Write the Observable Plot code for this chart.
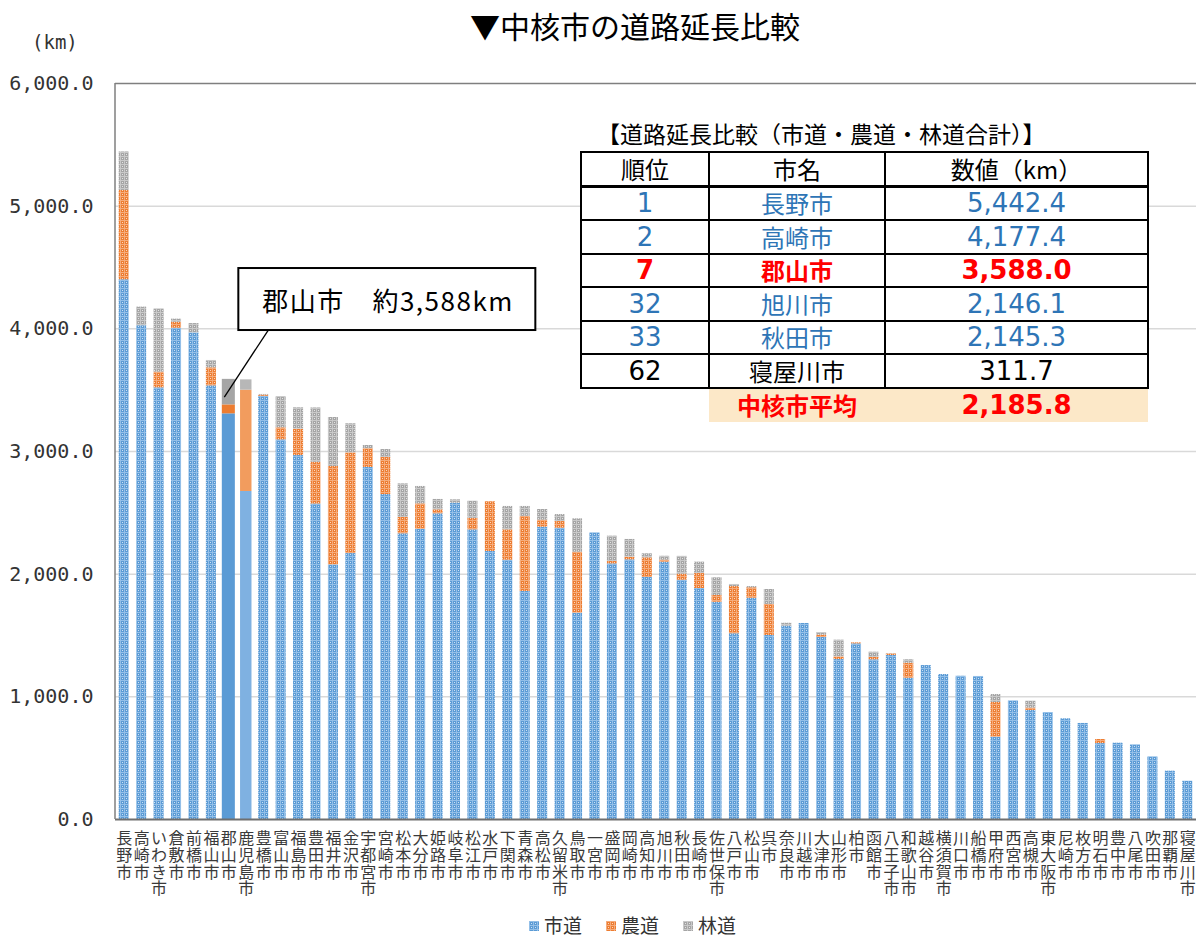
<!DOCTYPE html>
<html><head><meta charset="utf-8">
<script src="https://cdn.jsdelivr.net/npm/d3@7"></script>
<script src="https://cdn.jsdelivr.net/npm/@observablehq/plot@0.6"></script>
<style>
html,body{margin:0;padding:0;background:#fff;overflow:hidden;}
body{width:1196px;height:939px;position:relative;font-family:"Noto Sans CJK JP",sans-serif;}
#chart{position:absolute;left:0;top:0;}
.abs{position:absolute;white-space:nowrap;}
#title{left:470px;top:6px;font-size:30px;line-height:38px;color:#000;}
#unit{left:32px;top:31px;font-family:"DejaVu Sans Mono",monospace;font-size:19px;color:#333;}
#ttitle{left:597px;top:118px;font-size:23px;line-height:30px;color:#000;}
#rank{position:absolute;left:580px;top:151px;border-collapse:collapse;font-size:24px;}
#rank td{border:2px solid #000;height:31.5px;padding:0;text-align:center;line-height:30px;background:#fff;}
#rank td.c1{width:126px;} #rank td.c2{width:174px;} #rank td.c3{width:261px;}
#rank td.num{font-family:"DejaVu Sans",sans-serif;font-size:26px;}
#rank tr.avg td{border:none;background:#FCE8C8;color:#FF0000;font-weight:bold;height:33px;}
#rank tr.avg td.c1{background:transparent;}
#legend{left:517px;top:914px;font-size:19px;line-height:22px;color:#333;}
#legend span.it{margin:0 12px;}
#legend svg{vertical-align:middle;margin-right:5px;position:relative;top:-2px;}
</style></head>
<body>
<svg width="0" height="0" style="position:absolute">
<defs>
<pattern id="pBlue" width="4" height="4" patternUnits="userSpaceOnUse">
<rect width="4" height="4" fill="#5B9BD5"/><rect width="4" height="1" fill="#93BFE8"/><rect width="1" height="4" fill="#93BFE8"/><rect x="2" y="2" width="1" height="1" fill="#ffffff" fill-opacity="0.7"/>
</pattern>
<pattern id="pOrange" width="4" height="4" patternUnits="userSpaceOnUse">
<rect width="4" height="4" fill="#ED7D31"/><rect width="4" height="1" fill="#F5AC7C"/><rect width="1" height="4" fill="#F5AC7C"/><rect x="2" y="2" width="1" height="1" fill="#ffffff" fill-opacity="0.7"/>
</pattern>
<pattern id="pGray" width="4" height="4" patternUnits="userSpaceOnUse">
<rect width="4" height="4" fill="#A5A5A5"/><rect width="4" height="1" fill="#C9C9C9"/><rect width="1" height="4" fill="#C9C9C9"/><rect x="2" y="2" width="1" height="1" fill="#ffffff" fill-opacity="0.7"/>
</pattern>
</defs>
</svg>
<div id="chart"></div>
<div id="title" class="abs">▼中核市の道路延長比較</div>
<div id="unit" class="abs">(km)</div>
<div id="ttitle" class="abs">【道路延長比較（市道・農道・林道合計）】</div>
<table id="rank"></table>
<div id="legend" class="abs"></div>
<script>
const cities = ["長野市","高崎市","いわき市","倉敷市","前橋市","福山市","郡山市","鹿児島市","豊橋市","富山市","福島市","豊田市","福井市","金沢市","宇都宮市","宮崎市","松本市","大分市","姫路市","岐阜市","松江市","水戸市","下関市","青森市","高松市","久留米市","鳥取市","一宮市","盛岡市","岡崎市","高知市","旭川市","秋田市","長崎市","佐世保市","八戸市","松山市","呉市","奈良市","川越市","大津市","山形市","柏市","函館市","八王子市","和歌山市","越谷市","横須賀市","川口市","船橋市","甲府市","西宮市","高槻市","東大阪市","尼崎市","枚方市","明石市","豊中市","八尾市","吹田市","那覇市","寝屋川市"];
const shido = [4400,4025,3519,4005,3967,3535,3307,2674,3450,3095,2967,2572,2076,2168,2870,2649,2329,2366,2492,2579,2361,2185,2114,1859,2383,2375,1682,2337,2084,2117,1973,2098,1951,1883,1771,1514,1804,1500,1576,1598,1484,1304,1432,1302,1337,1152,1255,1182,1168,1166,671,967,889,872,821,783,619,622,609,511,394,312];
const nodo = [728,0,128,49,0,147,73,826,10,98,215,340,802,821,153,302,133,207,32,0,94,405,247,612,57,54,497,0,19,21,160,16,49,122,55,385,85,253,0,0,19,22,8,19,12,122,0,0,0,0,283,0,19,0,0,0,33,0,0,0,0,0];
const rindo = [314,152,516,25,76,60,208,84,5,255,174,443,399,237,26,65,274,142,85,27,140,0,191,81,87,57,272,0,207,145,33,32,145,93,144,17,10,122,24,0,21,136,0,43,2,28,0,0,0,0,65,0,57,0,0,0,0,0,0,0,0,0];
const seriesNames = ["市道","農道","林道"];
const yTicks = [0,1000,2000,3000,4000,5000,6000];
const gridValues = [1000,2000,3000,4000,5000];
const rankNo = ["1","2","7","32","33","62"];
const rankCity = ["長野市","高崎市","郡山市","旭川市","秋田市","寝屋川市"];
const rankValue = ["5,442.4","4,177.4","3,588.0","2,146.1","2,145.3","311.7"];
const avgLabel = "中核市平均";
const avgValue = "2,185.8";
const highlightCity = "郡山市";
const lightCity = "鹿児島市";
const calloutText = "郡山市　約3,588km";
const calloutValue = 3440;

const patternFill = {"市道":"url(#pBlue)","農道":"url(#pOrange)","林道":"url(#pGray)"};
const solidFill = {"市道":"#5B9BD5","農道":"#ED7D31","林道":"#A5A5A5"};
const lightFill = {"市道":"#7FB1E1","農道":"#F29C5E","林道":"#B7B7B7"};

const rows = [];
cities.forEach((c,i) => {
  [shido[i], nodo[i], rindo[i]].forEach((v,j) => rows.push({city:c, type:seriesNames[j], value:v}));
});
const regular = rows.filter(d => d.city !== highlightCity && d.city !== lightCity);
const hiRows = rows.filter(d => d.city === highlightCity);
const ltRows = rows.filter(d => d.city === lightCity);

function bandOf(x, dimensions) {
  return x.bandwidth ? x.bandwidth() : (dimensions.width - dimensions.marginLeft - dimensions.marginRight) / cities.length;
}
function leftLine(index, scales, values, dimensions) {
  const {marginLeft, marginTop, height, marginBottom} = dimensions;
  const g = d3.create("svg:g");
  g.append("line").attr("x1", marginLeft).attr("x2", marginLeft)
    .attr("y1", marginTop).attr("y2", height - marginBottom)
    .attr("stroke", "#7F7F7F").attr("stroke-width", 1.5);
  return g.node();
}
function callout(index, scales, values, dimensions) {
  const x = scales.x;
  const ex = x(highlightCity) + bandOf(x, dimensions) / 2 - 4;
  const ey = scales.y(calloutValue);
  const g = d3.create("svg:g");
  g.append("line").attr("x1", ex).attr("y1", ey).attr("x2", ex + 44).attr("y2", ey - 67)
    .attr("stroke", "#000").attr("stroke-width", 1.3);
  g.append("rect").attr("x", ex + 14).attr("y", ey - 129).attr("width", 297).attr("height", 62)
    .attr("fill", "#fff").attr("stroke", "#000").attr("stroke-width", 2);
  g.append("text").attr("x", ex + 38).attr("y", ey - 98)
    .attr("text-anchor", "start").attr("dominant-baseline", "central")
    .attr("textLength", 250).attr("lengthAdjust", "spacing")
    .attr("font-family", "'Noto Sans CJK JP', sans-serif").attr("font-size", 26).attr("fill", "#000")
    .text(calloutText);
  return g.node();
}

const chart = Plot.plot({
  width: 1196, height: 905,
  marginLeft: 115, marginRight: 0, marginTop: 83, marginBottom: 86,
  style: {background: "transparent", overflow: "visible"},
  x: {domain: cities, padding: 0, round: false, axis: null},
  y: {domain: [0, 6000], axis: null},
  color: {type: "identity"},
  marks: [
    Plot.ruleY(gridValues, {stroke: "#D9D9D9", strokeWidth: 1.5}),
    Plot.barY(regular, Plot.stackY({x: "city", y: "value", z: "type", order: seriesNames, fill: d => patternFill[d.type], insetLeft: 3.7, insetRight: 3.7})),
    Plot.barY(ltRows, Plot.stackY({x: "city", y: "value", z: "type", order: seriesNames, fill: d => lightFill[d.type], insetLeft: 3, insetRight: 3})),
    Plot.barY(hiRows, Plot.stackY({x: "city", y: "value", z: "type", order: seriesNames, fill: d => solidFill[d.type], insetLeft: 2.2, insetRight: 2.2})),
    Plot.ruleY([6000], {stroke: "#7F7F7F", strokeWidth: 1.5}),
    Plot.ruleY([0], {stroke: "#6F6F6F", strokeWidth: 1.8}),
    leftLine,
    Plot.text(yTicks, {y: d => d, text: d => d3.format(",.1f")(d), frameAnchor: "left", textAnchor: "end", dx: -22, fontSize: 20, fontFamily: "DejaVu Sans Mono", fill: "#333"}),
    Plot.text(cities, {x: d => d, text: d => [...d].join("\n"), frameAnchor: "bottom", lineAnchor: "top", dy: 13, fontSize: 16, lineHeight: 1.04, fontFamily: "Noto Sans CJK JP", fill: "#3a3a3a"}),
    callout
  ]
});
document.getElementById("chart").appendChild(chart);

// ranking table
const tbl = d3.select("#rank");
const hr = tbl.append("tr");
["順位","市名","数値（km）"].forEach((t,i) => hr.append("td").attr("class","c"+(i+1)).style("border-bottom","3px solid #000").text(t));
rankNo.forEach((n,i) => {
  const tr = tbl.append("tr");
  let color = "#2E75B6", weight = "normal";
  if (rankCity[i] === highlightCity) { color = "#FF0000"; weight = "bold"; }
  if (i === rankNo.length - 1) { color = "#000"; }
  [n, rankCity[i], rankValue[i]].forEach((t,j) => tr.append("td").attr("class","c"+(j+1)+(j !== 1 ? " num" : "")).style("color", color).style("font-weight", weight).text(t));
});
const ar = tbl.append("tr").attr("class","avg");
ar.append("td").attr("class","c1").text("");
ar.append("td").attr("class","c2").text(avgLabel);
ar.append("td").attr("class","c3 num").text(avgValue);

// legend
const lg = d3.select("#legend");
const lgFill = ["url(#pBlue)","url(#pOrange)","url(#pGray)"];
seriesNames.forEach((s,i) => {
  const it = lg.append("span").attr("class","it");
  const sv = it.append("svg").attr("width",10).attr("height",10);
  sv.append("rect").attr("width",10).attr("height",10).attr("fill", lgFill[i]);
  it.append("span").text(s);
});
</script>
</body></html>
